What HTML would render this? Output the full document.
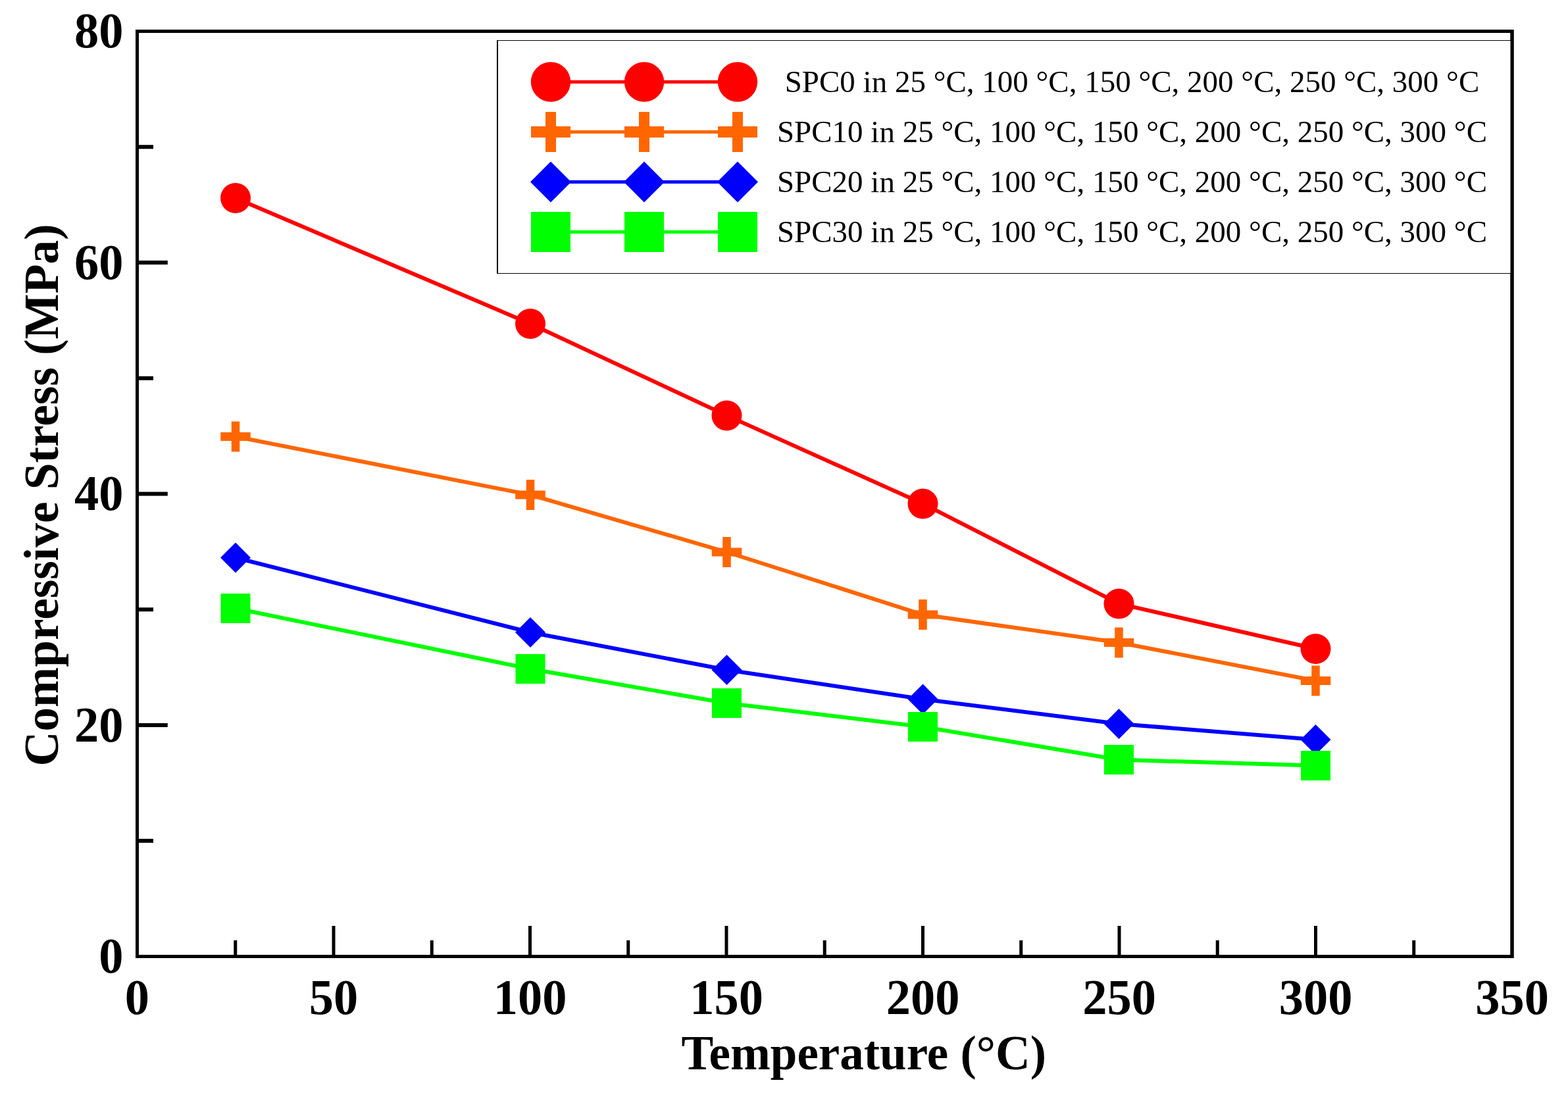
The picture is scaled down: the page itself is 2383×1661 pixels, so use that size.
<!DOCTYPE html>
<html><head><meta charset="utf-8"><title>Compressive Stress vs Temperature</title>
<style>html,body{margin:0;padding:0;background:#fff;}svg{display:block;}</style></head>
<body><svg width="2383" height="1661" viewBox="0 0 2383 1661">
<rect width="2383" height="1661" fill="#fff"/>
<rect x="208.5" y="47.5" width="2089.5" height="1406.0" fill="none" stroke="#000" stroke-width="5"/>
<path d="M357.75 1453.5V1429.0 M507.00 1453.5V1407.0 M656.25 1453.5V1429.0 M805.50 1453.5V1407.0 M954.75 1453.5V1429.0 M1104.00 1453.5V1407.0 M1253.25 1453.5V1429.0 M1402.50 1453.5V1407.0 M1551.75 1453.5V1429.0 M1701.00 1453.5V1407.0 M1850.25 1453.5V1429.0 M1999.50 1453.5V1407.0 M2148.75 1453.5V1429.0" stroke="#000" stroke-width="5" fill="none"/>
<path d="M208.5 1277.75H233.0 M208.5 1102.00H254.8 M208.5 926.25H233.0 M208.5 750.50H254.8 M208.5 574.75H233.0 M208.5 399.00H254.8 M208.5 223.25H233.0" stroke="#000" stroke-width="6" fill="none"/>
<g font-family="Liberation Serif, serif" font-weight="bold" font-size="74.5" fill="#000"><text transform="translate(187.5,1478.00) scale(1,1.025)" text-anchor="end">0</text><text transform="translate(187.5,1126.50) scale(1,1.025)" text-anchor="end">20</text><text transform="translate(187.5,775.00) scale(1,1.025)" text-anchor="end">40</text><text transform="translate(187.5,423.50) scale(1,1.025)" text-anchor="end">60</text><text transform="translate(187.5,72.00) scale(1,1.025)" text-anchor="end">80</text><text transform="translate(208.50,1541) scale(1,1.025)" text-anchor="middle">0</text><text transform="translate(507.00,1541) scale(1,1.025)" text-anchor="middle">50</text><text transform="translate(805.50,1541) scale(1,1.025)" text-anchor="middle">100</text><text transform="translate(1104.00,1541) scale(1,1.025)" text-anchor="middle">150</text><text transform="translate(1402.50,1541) scale(1,1.025)" text-anchor="middle">200</text><text transform="translate(1701.00,1541) scale(1,1.025)" text-anchor="middle">250</text><text transform="translate(1999.50,1541) scale(1,1.025)" text-anchor="middle">300</text><text transform="translate(2298.00,1541) scale(1,1.025)" text-anchor="middle">350</text></g>
<g font-family="Liberation Serif, serif" font-weight="bold" font-size="73.5" fill="#000"><text transform="translate(1035.6,1625.2) scale(0.9935,1)">Temperature (°C)</text><text transform="translate(88,1164.5) rotate(-90) scale(0.998,1)">Compressive Stress (MPa)</text></g>
<rect x="755" y="61" width="1543" height="355" fill="#fff"/><rect x="755" y="61" width="1543" height="1" fill="#000"/><rect x="755" y="415" width="1543" height="1" fill="#000"/><rect x="755" y="61" width="2" height="355" fill="#000"/>
<line x1="837" y1="124.5" x2="1121" y2="124.5" stroke="#ff0000" stroke-width="5"/>
<circle cx="837" cy="124.5" r="30.2" fill="#ff0000"/>
<circle cx="979" cy="124.5" r="30.2" fill="#ff0000"/>
<circle cx="1121" cy="124.5" r="30.2" fill="#ff0000"/>
<line x1="837" y1="200.5" x2="1121" y2="200.5" stroke="#ff6600" stroke-width="5"/>
<rect x="807.00" y="192.00" width="60" height="17" fill="#ff6600"/><rect x="829.00" y="170.00" width="16" height="61" fill="#ff6600"/>
<rect x="949.00" y="192.00" width="60" height="17" fill="#ff6600"/><rect x="971.00" y="170.00" width="16" height="61" fill="#ff6600"/>
<rect x="1091.00" y="192.00" width="60" height="17" fill="#ff6600"/><rect x="1113.00" y="170.00" width="16" height="61" fill="#ff6600"/>
<line x1="837" y1="276.5" x2="1121" y2="276.5" stroke="#0000ff" stroke-width="5"/>
<polygon points="837,245.5 868,276.5 837,307.5 806,276.5" fill="#0000ff"/>
<polygon points="979,245.5 1010,276.5 979,307.5 948,276.5" fill="#0000ff"/>
<polygon points="1121,245.5 1152,276.5 1121,307.5 1090,276.5" fill="#0000ff"/>
<line x1="837" y1="352.5" x2="1121" y2="352.5" stroke="#00ff00" stroke-width="5"/>
<rect x="807" y="322.0" width="60" height="61" fill="#00ff00"/>
<rect x="949" y="322.0" width="60" height="61" fill="#00ff00"/>
<rect x="1091" y="322.0" width="60" height="61" fill="#00ff00"/>
<g font-family="Liberation Serif, serif" font-size="47" fill="#000"><text x="1720.5" y="139.8" text-anchor="middle">SPC0 in 25 °C, 100 °C, 150 °C, 200 °C, 250 °C, 300 °C</text><text x="1720.5" y="215.8" text-anchor="middle">SPC10 in 25 °C, 100 °C, 150 °C, 200 °C, 250 °C, 300 °C</text><text x="1720.5" y="291.8" text-anchor="middle">SPC20 in 25 °C, 100 °C, 150 °C, 200 °C, 250 °C, 300 °C</text><text x="1720.5" y="367.8" text-anchor="middle">SPC30 in 25 °C, 100 °C, 150 °C, 200 °C, 250 °C, 300 °C</text></g>
<line x1="2298" y1="45.0" x2="2298" y2="1456.0" stroke="#000" stroke-width="5"/>
<polyline points="358,301 806,492 1104.5,631.4 1402.5,765.4 1700.5,917.4 1999.5,986" fill="none" stroke="#ff0000" stroke-width="6" stroke-linejoin="miter"/>
<circle cx="358" cy="301" r="23" fill="#ff0000"/>
<circle cx="806" cy="492" r="23" fill="#ff0000"/>
<circle cx="1104.5" cy="631.4" r="23" fill="#ff0000"/>
<circle cx="1402.5" cy="765.4" r="23" fill="#ff0000"/>
<circle cx="1700.5" cy="917.4" r="23" fill="#ff0000"/>
<circle cx="1999.5" cy="986" r="23" fill="#ff0000"/>
<polyline points="358,663.5 806,752 1104.5,839 1402.5,934 1700.5,976.5 1999.5,1034.5" fill="none" stroke="#ff6600" stroke-width="6" stroke-linejoin="miter"/>
<rect x="335.25" y="657.00" width="45.5" height="13" fill="#ff6600"/><rect x="351.75" y="640.50" width="12.5" height="46" fill="#ff6600"/>
<rect x="783.25" y="745.50" width="45.5" height="13" fill="#ff6600"/><rect x="799.75" y="729.00" width="12.5" height="46" fill="#ff6600"/>
<rect x="1081.75" y="832.50" width="45.5" height="13" fill="#ff6600"/><rect x="1098.25" y="816.00" width="12.5" height="46" fill="#ff6600"/>
<rect x="1379.75" y="927.50" width="45.5" height="13" fill="#ff6600"/><rect x="1396.25" y="911.00" width="12.5" height="46" fill="#ff6600"/>
<rect x="1677.75" y="970.00" width="45.5" height="13" fill="#ff6600"/><rect x="1694.25" y="953.50" width="12.5" height="46" fill="#ff6600"/>
<rect x="1976.75" y="1028.00" width="45.5" height="13" fill="#ff6600"/><rect x="1993.25" y="1011.50" width="12.5" height="46" fill="#ff6600"/>
<polyline points="358,847.5 806,961 1104.5,1018 1402.5,1062.5 1700.5,1100 1999.5,1124" fill="none" stroke="#0000ff" stroke-width="6" stroke-linejoin="miter"/>
<polygon points="358,824.5 381,847.5 358,870.5 335,847.5" fill="#0000ff"/>
<polygon points="806,938 829,961 806,984 783,961" fill="#0000ff"/>
<polygon points="1104.5,995 1127.5,1018 1104.5,1041 1081.5,1018" fill="#0000ff"/>
<polygon points="1402.5,1039.5 1425.5,1062.5 1402.5,1085.5 1379.5,1062.5" fill="#0000ff"/>
<polygon points="1700.5,1077 1723.5,1100 1700.5,1123 1677.5,1100" fill="#0000ff"/>
<polygon points="1999.5,1101 2022.5,1124 1999.5,1147 1976.5,1124" fill="#0000ff"/>
<polyline points="358,924.5 806,1016.5 1104.5,1068.5 1402.5,1104.5 1700.5,1154.5 1999.5,1163.5" fill="none" stroke="#00ff00" stroke-width="6" stroke-linejoin="miter"/>
<rect x="335.5" y="902.0" width="45" height="45" fill="#00ff00"/>
<rect x="783.5" y="994.0" width="45" height="45" fill="#00ff00"/>
<rect x="1082.0" y="1046.0" width="45" height="45" fill="#00ff00"/>
<rect x="1380.0" y="1082.0" width="45" height="45" fill="#00ff00"/>
<rect x="1678.0" y="1132.0" width="45" height="45" fill="#00ff00"/>
<rect x="1977.0" y="1141.0" width="45" height="45" fill="#00ff00"/>
</svg></body></html>
